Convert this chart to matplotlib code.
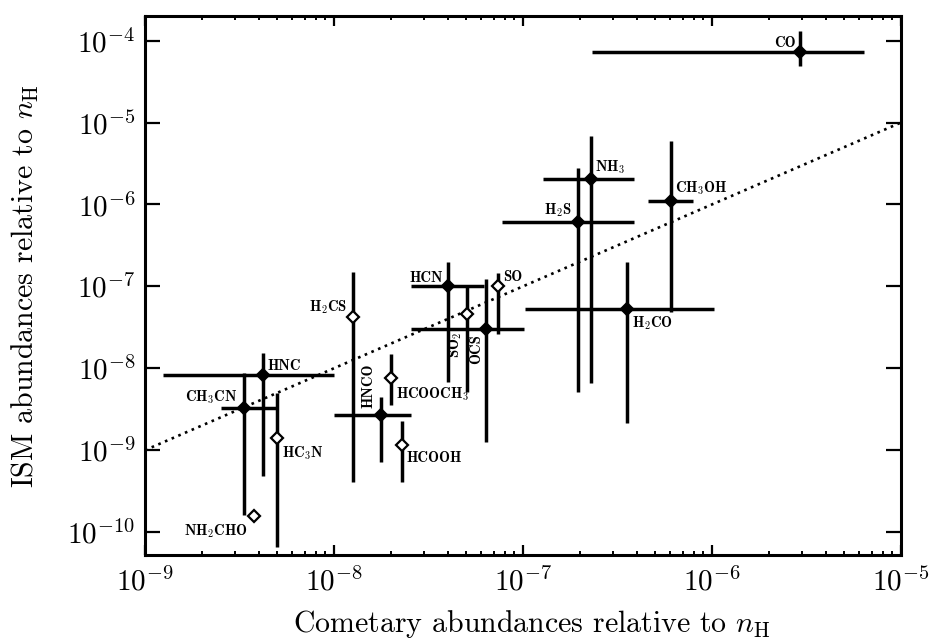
import numpy as np
import matplotlib
matplotlib.use("Agg")
import matplotlib.pyplot as plt

plt.rcParams['mathtext.fontset'] = 'cm'
plt.rcParams['axes.unicode_minus'] = False

# ---- data ----
names = ['CO', 'NH$_\\mathbf{3}$', 'H$_\\mathbf{2}$S', 'CH$_\\mathbf{3}$OH', 'H$_\\mathbf{2}$CO',
         'SO', 'HCN', 'SO$_\\mathbf{2}$', 'OCS', 'H$_\\mathbf{2}$CS', 'HNCO',
         'HCOOCH$_\\mathbf{3}$', 'HCOOH', 'HNC', 'CH$_\\mathbf{3}$CN', 'HC$_\\mathbf{3}$N',
         'NH$_\\mathbf{2}$CHO']
comet = [2.92e-6, 2.3e-7, 1.95e-7, 6.07e-7, 3.57e-7,
         7.38e-8, 4.0e-8, 5.07e-8, 6.34e-8, 1.26e-8, 1.77e-8,
         2.0e-8, 2.28e-8, 4.2e-9, 3.36e-9, 5.0e-9, 3.76e-9]
ism = [7.3e-5, 2.05e-6, 6.07e-7, 1.11e-6, 5.25e-8,
       1.0e-7, 1.01e-7, 4.6e-8, 3.05e-8, 4.2e-8, 2.7e-9,
       7.7e-9, 1.15e-9, 8.3e-9, 3.3e-9, 1.4e-9, 1.55e-10]
comet_lo = [2.33e-7, 1.28e-7, 7.7e-8, 4.6e-7, 1.02e-7,
            np.nan, 2.55e-8, np.nan, 2.55e-8, np.nan, 1.0e-8,
            np.nan, np.nan, 1.25e-9, 2.52e-9, np.nan, np.nan]
comet_hi = [6.4e-6, 3.85e-7, 3.85e-7, 7.9e-7, 1.03e-6,
            np.nan, 6.2e-8, np.nan, 1.01e-7, np.nan, 2.54e-8,
            np.nan, np.nan, 1.0e-8, 4.97e-9, np.nan, np.nan]
ism_lo = [4.9e-5, 6.6e-9, 5.1e-9, 4.8e-8, 2.13e-9,
          2.6e-8, 6.75e-9, 5.1e-9, 1.25e-9, 4.1e-10, 7.2e-10,
          3.6e-9, 4.1e-10, 4.8e-10, 1.62e-10, 6.6e-11, np.nan]
ism_hi = [1.32e-4, 6.9e-6, 2.77e-6, 5.96e-6, 2.0e-7,
          1.47e-7, 1.97e-7, 1.04e-7, 1.24e-7, 1.49e-7, 4.4e-9,
          1.5e-8, 2.3e-9, 1.52e-8, 8.75e-9, 4.95e-9, np.nan]
filled = [True, True, True, True, True,
          False, True, False, True, False, True,
          False, False, True, True, False, False]
x_ticks = [1e-9, 1e-8, 1e-7, 1e-6, 1e-5]
x_ticklabels = ['$10^{-9}$', '$10^{-8}$', '$10^{-7}$', '$10^{-6}$', '$10^{-5}$']
y_ticks = [1e-10, 1e-9, 1e-8, 1e-7, 1e-6, 1e-5, 1e-4]
y_ticklabels = ['$10^{-10}$', '$10^{-9}$', '$10^{-8}$', '$10^{-7}$', '$10^{-6}$',
                '$10^{-5}$', '$10^{-4}$']

# label placement: (dx, dy) pixels, ha, va, rotation
label_style = [
    (-4, 5, 'right', 'baseline', 0),    # CO
    (4, 7, 'left', 'baseline', 0),      # NH3
    (-6, 8, 'right', 'baseline', 0),    # H2S
    (4, 8, 'left', 'baseline', 0),      # CH3OH
    (5, -5, 'left', 'top', 0),          # H2CO
    (5, 5, 'left', 'baseline', 0),      # SO
    (-5, 4, 'right', 'baseline', 0),    # HCN
    (-3, -18, 'right', 'top', 90),      # SO2
    (-2, -6, 'right', 'top', 90),       # OCS
    (-6, 6, 'right', 'baseline', 0),    # H2CS
    (-5, 7, 'right', 'bottom', 90),     # HNCO
    (5, -8, 'left', 'top', 0),          # HCOOCH3
    (5, -6, 'left', 'top', 0),          # HCOOH
    (5, 5, 'left', 'baseline', 0),      # HNC
    (-7, 6, 'right', 'baseline', 0),    # CH3CN
    (5, -6, 'left', 'top', 0),          # HC3N
    (-6, -6, 'right', 'top', 0),        # NH2CHO
]

fig = plt.figure(figsize=(9.33, 6.42), dpi=100)
ax = fig.add_axes([0.1554, 0.1355, 0.8103, 0.8395])
ax.set_xscale('log')
ax.set_yscale('log')
ax.set_xlim(1e-9, 1e-5)
ax.set_ylim(10 ** -10.28, 10 ** -3.70)

# y = x reference line
ax.plot([1e-9, 1e-5], [1e-9, 1e-5], color='black', lw=1.9,
        linestyle=(0, (1.0, 1.75)), dash_capstyle='butt', zorder=1)

for i in range(len(names)):
    x, y = comet[i], ism[i]
    if not np.isnan(comet_lo[i]):
        ax.errorbar([x], [y], xerr=[[x - comet_lo[i]], [comet_hi[i] - x]],
                    fmt='none', ecolor='black', elinewidth=2.5, capsize=0, zorder=2)
    if not np.isnan(ism_lo[i]):
        ax.errorbar([x], [y], yerr=[[y - ism_lo[i]], [ism_hi[i] - y]],
                    fmt='none', ecolor='black', elinewidth=2.5, capsize=0, zorder=2)
    ax.plot([x], [y], marker='D', markersize=6.2, markeredgewidth=1.6,
            markeredgecolor='black', markerfacecolor='black' if filled[i] else 'white',
            linestyle='none', zorder=3)
    dx, dy, ha, va, rot = label_style[i]
    ax.annotate(names[i], xy=(x, y), xytext=(dx, dy), textcoords='offset pixels',
                ha=ha, va=va, rotation=rot, fontsize=10.5, family='cmb10', zorder=4)

ax.set_xticks(x_ticks)
ax.set_xticklabels(x_ticklabels, fontsize=21)
ax.set_yticks(y_ticks)
ax.set_yticklabels(y_ticklabels, fontsize=21)
ax.yaxis.set_minor_locator(matplotlib.ticker.NullLocator())

ax.tick_params(axis='x', which='major', direction='in', length=7, width=1.6,
               top=True, bottom=True, pad=9)
ax.tick_params(axis='x', which='minor', direction='in', length=3.2, width=1.4,
               top=True, bottom=True)
ax.tick_params(axis='y', which='major', direction='in', length=10.5, width=1.6,
               left=True, right=True, pad=7)
for s in ax.spines.values():
    s.set_linewidth(2.2)

ax.set_xlabel('Cometary abundances relative to $n_\\mathrm{H}$', fontsize=21.5,
              family='cmr10')
ax.set_ylabel('ISM abundances relative to $n_\\mathrm{H}$', fontsize=21.5,
              family='cmr10')
ax.xaxis.set_label_coords(0.512, -0.098)
ax.yaxis.set_label_coords(-0.137, 0.5)

fig.savefig('out.png', dpi=100)
